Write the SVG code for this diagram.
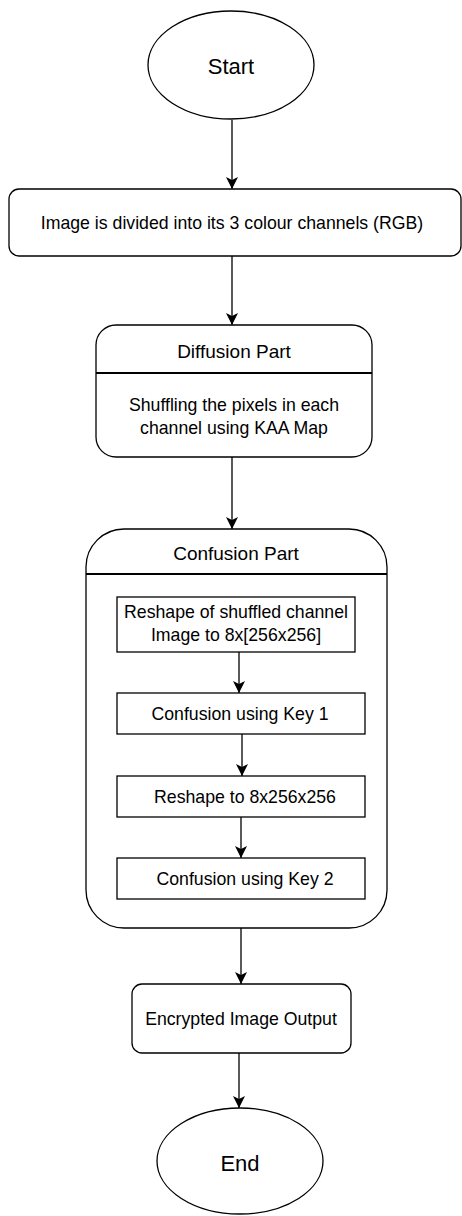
<svg xmlns="http://www.w3.org/2000/svg" width="462" height="1216" viewBox="0 0 462 1216">
<defs>
<style>
.s{fill:#fff;stroke:#000;stroke-width:1.3}
.t{font-family:"Liberation Sans",Arial,sans-serif;font-size:17.7px;fill:#000;text-anchor:middle;dominant-baseline:central}
.h{font-size:19px}
.b{font-size:22px}
.c{stroke:#000;stroke-width:1.3;fill:none;marker-end:url(#a)}
.d{stroke:#000;stroke-width:2.2}
</style>
<marker id="a" markerUnits="userSpaceOnUse" markerWidth="12" markerHeight="12" refX="10" refY="5" orient="auto" viewBox="0 0 10 10">
<path d="M0,0 L10,5 L0,10 L2.5,5 Z" fill="#000"/>
</marker>
</defs>
<g id="start">
<ellipse class="s" cx="231" cy="65" rx="83" ry="54"/>
<text class="t b" x="231" y="66">Start</text>
</g>
<g id="divide">
<rect class="s" x="9" y="189" width="452" height="67" rx="10"/>
<text class="t" x="232" y="223">Image is divided into its 3 colour channels (RGB)</text>
</g>
<g id="diffusion">
<rect class="s" x="96" y="325" width="276" height="132" rx="20"/>
<line class="d" x1="96" y1="373" x2="372" y2="373"/>
<text class="t h" x="234" y="351">Diffusion Part</text>
<text class="t" x="234" y="405">Shuffling the pixels in each</text>
<text class="t" x="234" y="428">channel using KAA Map</text>
</g>
<g id="confusion">
<rect class="s" x="86" y="529" width="301" height="399" rx="38"/>
<line class="d" x1="86" y1="574" x2="387" y2="574"/>
<text class="t h" x="236" y="553">Confusion Part</text>
</g>
<g id="reshape1">
<rect class="s" x="117" y="597" width="238" height="55"/>
<text class="t" x="236" y="612">Reshape of shuffled channel</text>
<text class="t" x="236" y="635">Image to 8x[256x256]</text>
</g>
<g id="key1">
<rect class="s" x="117" y="693" width="248" height="41"/>
<text class="t" x="240" y="714">Confusion using Key 1</text>
</g>
<g id="reshape2">
<rect class="s" x="117" y="776" width="248" height="41"/>
<text class="t" x="245" y="797">Reshape to 8x256x256</text>
</g>
<g id="key2">
<rect class="s" x="117" y="858" width="248" height="41"/>
<text class="t" x="245" y="879">Confusion using Key 2</text>
</g>
<g id="output">
<rect class="s" x="132" y="984" width="219" height="69" rx="10"/>
<text class="t" x="241" y="1019">Encrypted Image Output</text>
</g>
<g id="end">
<ellipse class="s" cx="240" cy="1161" rx="83" ry="53"/>
<text class="t b" x="240" y="1163">End</text>
</g>
<g id="connectors">
<line class="c" x1="232" y1="120" x2="232" y2="189"/>
<line class="c" x1="232" y1="256" x2="232" y2="325"/>
<line class="c" x1="232" y1="457" x2="232" y2="529"/>
<line class="c" x1="239" y1="652" x2="239" y2="693"/>
<line class="c" x1="242" y1="734" x2="242" y2="776"/>
<line class="c" x1="241" y1="817" x2="241" y2="858"/>
<line class="c" x1="241" y1="928" x2="241" y2="984"/>
<line class="c" x1="239" y1="1053" x2="239" y2="1108"/>
</g>
</svg>
